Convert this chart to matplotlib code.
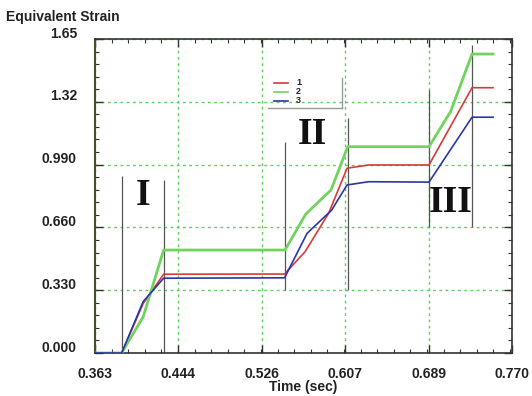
import matplotlib
matplotlib.use("Agg")
import matplotlib.pyplot as plt
from matplotlib.ticker import FixedLocator, AutoMinorLocator
from matplotlib.transforms import ScaledTranslation

# ---- data ----
x_ticks = [0.363, 0.444, 0.526, 0.607, 0.689, 0.770]
x_tick_labels = ["0.363", "0.444", "0.526", "0.607", "0.689", "0.770"]
y_ticks = [0.0, 0.33, 0.66, 0.99, 1.32, 1.65]
y_tick_labels = ["0.000", "0.330", "0.660", "0.990", "1.32", "1.65"]

t_red = [0.363, 0.389, 0.410, 0.430, 0.548, 0.568, 0.591, 0.609, 0.630, 0.689, 0.731, 0.7515]
v_red = [0.0, 0.0, 0.26, 0.414, 0.415, 0.532, 0.734, 0.971, 0.988, 0.988, 1.394, 1.394]

t_green = [0.363, 0.389, 0.410, 0.430, 0.5485, 0.5687, 0.5934, 0.6097, 0.689, 0.710, 0.731, 0.7515]
v_green = [0.0, 0.0, 0.19, 0.541, 0.541, 0.730, 0.857, 1.084, 1.084, 1.268, 1.571, 1.571]

t_blue = [0.363, 0.389, 0.410, 0.430, 0.548, 0.570, 0.594, 0.609, 0.630, 0.689, 0.731, 0.7515]
v_blue = [0.0, 0.0, 0.27, 0.393, 0.395, 0.629, 0.751, 0.883, 0.900, 0.898, 1.239, 1.239]

series_labels = ["1", "2", "3"]
series_colors = ["#d63a3a", "#72d25e", "#2a35a8"]

marker_t = [0.389, 0.430, 0.5485, 0.6097, 0.6893, 0.7309]
marker_lo = [0.0, 0.0, 0.33, 0.33, 0.66, 0.66]
marker_hi = [0.93, 0.91, 1.11, 1.235, 1.38, 1.618]

phase_labels = ["I", "II", "III"]
phase_t = [0.4099, 0.5748, 0.7102]
phase_y = [0.830, 1.146, 0.790]

# ---- figure ----
fig = plt.figure(figsize=(5.32, 3.96), dpi=100)
ax = fig.add_axes([95/532, 1-353/396, 417/532, 314/396])

ax.set_xlim(0.363, 0.770)
ax.set_ylim(0.0, 1.65)

ax.grid(True, which="major", color="#5fcf5f", linestyle=(0, (2, 2.5)), linewidth=1.0)
ax.set_axisbelow(True)

ax.vlines(marker_t, marker_lo, marker_hi, colors="#555555", linewidth=0.9, zorder=2)

for t, v, c, lw in [(t_red, v_red, series_colors[0], 1.2),
                    (t_green, v_green, series_colors[1], 2.0),
                    (t_blue, v_blue, series_colors[2], 1.2)]:
    ax.plot(t, v, color=c, linewidth=lw, zorder=3)

for lab, tx, ty in zip(phase_labels, phase_t, phase_y):
    ax.text(tx, ty, lab, fontsize=27, fontweight="bold", family="Liberation Serif",
            color="#111111", ha="center", va="center", zorder=4)

# manual legend
lx0, lx1, ltx = 0.429, 0.463, 0.482
lys = [0.861, 0.832, 0.803]
for lab, c, ly in zip(series_labels, series_colors, lys):
    ax.plot([lx0, lx1], [ly, ly], transform=ax.transAxes, color=c, linewidth=1.2, zorder=5)
    ax.text(ltx, ly, lab, transform=ax.transAxes, fontsize=6.5, fontweight="bold",
            family="Liberation Sans", va="center", ha="left", color="#222222")
ax.plot([0.592, 0.592], [0.876, 0.780], transform=ax.transAxes, color="#999999", linewidth=1.0)
ax.plot([0.415, 0.592], [0.780, 0.780], transform=ax.transAxes, color="#999999", linewidth=1.0)

# ticks
ax.xaxis.set_major_locator(FixedLocator(x_ticks))
ax.yaxis.set_major_locator(FixedLocator(y_ticks))
ax.set_xticklabels(x_tick_labels)
ax.set_yticklabels(y_tick_labels)
ax.xaxis.set_minor_locator(AutoMinorLocator(5))
ax.yaxis.set_minor_locator(AutoMinorLocator(5))
ax.tick_params(which="both", direction="in", top=True, right=True, color="#333333")
ax.tick_params(which="major", length=6, width=1.0)
ax.tick_params(which="minor", length=3, width=0.8)
ax.tick_params(axis="x", which="major", pad=10, labelsize=10)
ax.tick_params(axis="y", which="major", pad=13, labelsize=10)

for lab in ax.get_xticklabels() + ax.get_yticklabels():
    lab.set_fontweight("bold")
    lab.set_family("Liberation Sans")
    lab.set_color("#222222")
off = ScaledTranslation(0, 7/100, fig.dpi_scale_trans)
for lab in ax.get_yticklabels():
    lab.set_transform(lab.get_transform() + off)

for s in ax.spines.values():
    s.set_color("#333333")
    s.set_linewidth(1.2)
ax.spines["left"].set_color("#4a4a2c")
ax.spines["left"].set_linewidth(1.5)

ax.set_xlabel("Time (sec)", fontsize=10, fontweight="bold", family="Liberation Sans",
              labelpad=-1, color="#222222")
fig.text(63/532, 1-17/396, "Equivalent Strain", fontsize=10, fontweight="bold",
         family="Liberation Sans", ha="center", va="center", color="#222222")

fig.savefig("out.png", dpi=100)
